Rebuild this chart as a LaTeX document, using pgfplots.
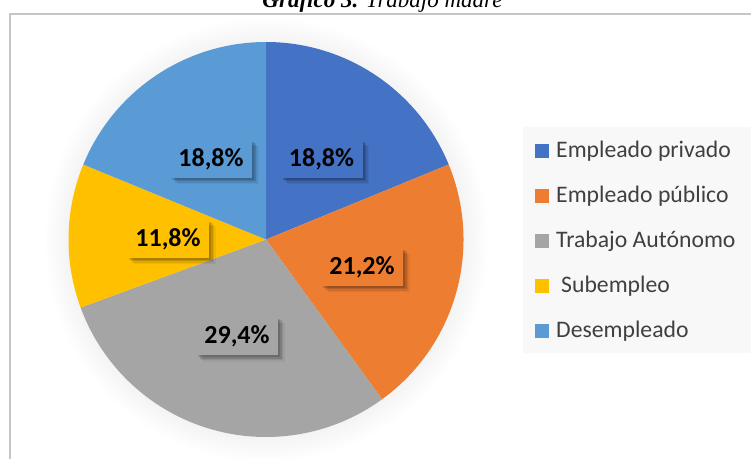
\documentclass[border=0pt]{standalone}
\usepackage{pgfplots}
\pgfplotsset{compat=1.18}
\usepackage{pgfplotstable}
\usepackage{fontspec}
\setmainfont{Carlito}
\newfontfamily\timesfont{Liberation Serif}
\usetikzlibrary{shadows,fadings}

\definecolor{cPriv}{HTML}{4472C4}
\definecolor{cPub}{HTML}{ED7D31}
\definecolor{cAut}{HTML}{A5A5A5}
\definecolor{cSub}{HTML}{FFC000}
\definecolor{cDes}{HTML}{5B9BD5}
\definecolor{frameGray}{HTML}{C6C6C6}
\definecolor{legBg}{HTML}{F8F8F8}

\pgfplotstableread[col sep=semicolon]{
name;value;color;lx;ly;nx
Empleado privado;18.8;cPriv;321.5;300;556
Empleado público;21.2;cPub;362;192;556
Trabajo Autónomo;29.4;cAut;237;123;556
Subempleo;11.8;cSub;168;220;561
Desempleado;18.8;cDes;211;300;556
}\piedata

\tikzset{softshadow/.style={
  general shadow={shadow xshift=2bp, shadow yshift=-2bp, fill=black, opacity=0.14},
  general shadow={shadow xshift=3.5bp, shadow yshift=-3.5bp, fill=black, opacity=0.12},
  general shadow={shadow xshift=5bp, shadow yshift=-5bp, fill=black, opacity=0.08},
  general shadow={shadow xshift=6.5bp, shadow yshift=-6.5bp, fill=black, opacity=0.05}}}

\begin{document}
\begin{tikzpicture}
\path[use as bounding box] (0,0) rectangle (751bp,459bp);
\begin{axis}[at={(0,0)}, anchor=south west, width=751bp, height=459bp,
  scale only axis, xmin=0, xmax=751, ymin=0, ymax=459, hide axis, clip=false,
  /pgf/number format/assume math mode=true]
  % frame
  \draw[frameGray, line width=2bp] (axis cs:9.5,-100) |- (axis cs:900,445);
  % title
  \node[anchor=base, font=\timesfont\fontsize{23bp}{26bp}\selectfont] at (axis cs:382.5,451.7)
     {\textbf{\textit{Gráfico 3.}} \textit{Trabajo madre}};
  % glow
  \fill[black, opacity=0.06, path fading=circle with fuzzy edge 15 percent]
     (axis cs:266,219.5) circle (222bp);
  % legend background
  \fill[legBg] (axis cs:523,106) rectangle (axis cs:760,332);
  \xdef\startang{90}
  \pgfplotsinvokeforeach{0,...,4}{%
    \pgfplotstablegetelem{#1}{value}\of\piedata \xdef\val{\pgfplotsretval}%
    \pgfplotstablegetelem{#1}{color}\of\piedata \xdef\col{\pgfplotsretval}%
    \pgfmathsetmacro\endang{\startang-3.6*\val}%
    \edef\temp{\noexpand\fill[\col] (axis cs:266,219.5) -- ++(\startang:197.5bp)
       arc[start angle=\startang, end angle=\endang, radius=197.5bp] -- cycle;}%
    \temp
    \xdef\startang{\endang}%
  }
  \pgfplotsinvokeforeach{0,...,4}{%
    \pgfplotstablegetelem{#1}{value}\of\piedata \xdef\val{\pgfplotsretval}%
    \pgfplotstablegetelem{#1}{color}\of\piedata \xdef\col{\pgfplotsretval}%
    \pgfplotstablegetelem{#1}{lx}\of\piedata \xdef\lx{\pgfplotsretval}%
    \pgfplotstablegetelem{#1}{ly}\of\piedata \xdef\ly{\pgfplotsretval}%
    \pgfplotstablegetelem{#1}{name}\of\piedata \xdef\nm{\pgfplotsretval}%
    \pgfplotstablegetelem{#1}{nx}\of\piedata \xdef\nx{\pgfplotsretval}%
    \pgfmathsetmacro\sqy{459-151-45*#1}%
    \pgfmathsetmacro\tby{\sqy-6.5}%
    \edef\temp{%
      \noexpand\node[fill=\col, minimum width=82bp, minimum height=38bp, inner sep=0pt,
        softshadow,
        font=\noexpand\bfseries\noexpand\fontsize{26bp}{30bp}\noexpand\selectfont]
        at (axis cs:\lx,\ly) {\noexpand\pgfmathprintnumber[use comma, fixed, fixed zerofill, precision=1, assume math mode=true]{\val}\noexpand\%};
      \noexpand\fill[\col] (axis cs:535,\sqy-7) rectangle (axis cs:549,\sqy+7);
      \noexpand\node[anchor=base west, inner sep=0pt, text=black!75,
        font=\noexpand\fontsize{23.7bp}{26bp}\noexpand\selectfont]
        at (axis cs:\nx,\tby) {\nm};
    }%
    \temp
  }
\end{axis}
\end{tikzpicture}
\end{document}
